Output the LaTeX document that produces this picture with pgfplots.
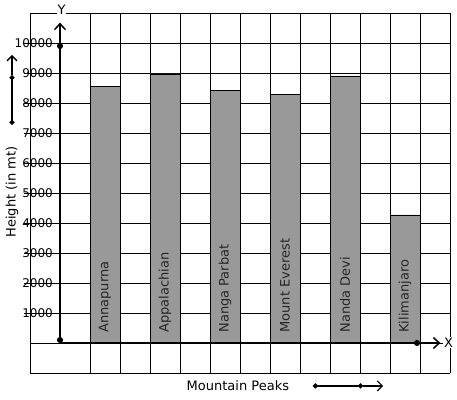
\documentclass[border=0pt]{standalone}
\usepackage{fontspec}
\setmainfont{DejaVu Sans}
\usepackage{pgfplots}
\pgfplotsset{compat=1.18}
\usetikzlibrary{arrows.meta}
\definecolor{bargray}{RGB}{153,153,153}
\pgfplotstableread{
x h
1.5 8560
3.5 8970
5.5 8410
7.5 8290
9.5 8900
11.5 4270
}\peaks
\begin{document}
\begin{tikzpicture}
\path[use as bounding box] (0,0) rectangle (457pt,399pt);
\begin{axis}[
  at={(30pt,26pt)}, anchor=south west,
  scale only axis, width=420pt, height=360pt,
  xmin=-1, xmax=13, ymin=-1000, ymax=11000,
  clip=false,
  axis x line=middle, axis y line=middle,
  axis line style={draw=none},
  xtick={-1,0,...,13}, xticklabels={},
  xtick style={draw=none},
  ytick={1000,2000,...,10000},
  scaled y ticks=false,
  extra y ticks={-1000,0,11000},
  extra y tick labels={},
  extra y tick style={tick style={draw=none}},
  ytick align=outside, tickpos=left,
  major tick length=6pt,
  ytick style={black, line width=0.6pt},
  grid=major,
  grid style={black, line width=0.6pt},
  /pgf/number format/assume math mode=true,
  /pgf/number format/set thousands separator={},
  yticklabel style={font=\fontsize{12}{14}\selectfont, inner sep=1pt},
  every axis plot/.append style={fill=bargray, draw=black, line width=0.6pt},
]
\addplot[ybar, bar width=30pt, fill=bargray, draw=black] table[x=x, y=h] {\peaks};
\node[rotate=90, anchor=west, inner sep=0pt, font=\fontsize{13}{15}\selectfont, text=black!85] at (axis cs:1.5,340) {Annapurna};
\node[rotate=90, anchor=west, inner sep=0pt, font=\fontsize{13}{15}\selectfont, text=black!85] at (axis cs:3.5,340) {Appalachian};
\node[rotate=90, anchor=west, inner sep=0pt, font=\fontsize{13}{15}\selectfont, text=black!85] at (axis cs:5.5,340) {Nanga Parbat};
\node[rotate=90, anchor=west, inner sep=0pt, font=\fontsize{13}{15}\selectfont, text=black!85] at (axis cs:7.5,340) {Mount Everest};
\node[rotate=90, anchor=west, inner sep=0pt, font=\fontsize{13}{15}\selectfont, text=black!85] at (axis cs:9.5,340) {Nanda Devi};
\node[rotate=90, anchor=west, inner sep=0pt, font=\fontsize{13}{15}\selectfont, text=black!85] at (axis cs:11.5,340) {Kilimanjaro};
% axes
\draw[line width=1.8pt, {Circle[length=6pt]}-{Circle[length=6pt]}] (axis cs:0,0) -- (axis cs:0,10000);
\draw[line width=1.8pt, -{Straight Barb[length=6pt,width=11pt,line width=1.5pt]}] (axis cs:0,10000) -- (axis cs:0,10680);
\draw[line width=1.8pt, -{Circle[length=6pt]}] (axis cs:0,0) -- (axis cs:12,0);
\draw[line width=1.8pt, -{Straight Barb[length=6pt,width=11pt,line width=1.5pt]}] (axis cs:12,0) -- (axis cs:12.68,0);
\node[font=\fontsize{13}{15}\selectfont, fill=white, inner sep=1pt] at (axis cs:0.05,11100) {Y};
\node[font=\fontsize{13}{15}\selectfont, fill=white, inner sep=1pt] at (axis cs:12.95,10) {X};
\node[rotate=90, font=\fontsize{13}{15}\selectfont] at (axis cs:-1.6,5030) {Height (in mt)};
\node[font=\fontsize{13}{15}\selectfont] at (axis cs:5.93,-1430) {Mountain Peaks};
% decorative arrows
\draw[line width=1.5pt, {Circle[length=5pt]}-{Circle[length=5pt]}] (axis cs:-1.6,7270) -- (axis cs:-1.6,8930);
\draw[line width=1.5pt, -{Straight Barb[length=5pt,width=10pt,line width=1.3pt]}] (axis cs:-1.6,8930) -- (axis cs:-1.6,9600);
\draw[line width=1.3pt, {Circle[length=5pt]}-{Circle[length=5pt]}] (axis cs:8.43,-1430) -- (axis cs:10.1,-1430);
\draw[line width=1.3pt, -{Straight Barb[length=5pt,width=10pt,line width=1.2pt]}] (axis cs:10.1,-1430) -- (axis cs:10.77,-1430);
\end{axis}
\end{tikzpicture}
\end{document}
